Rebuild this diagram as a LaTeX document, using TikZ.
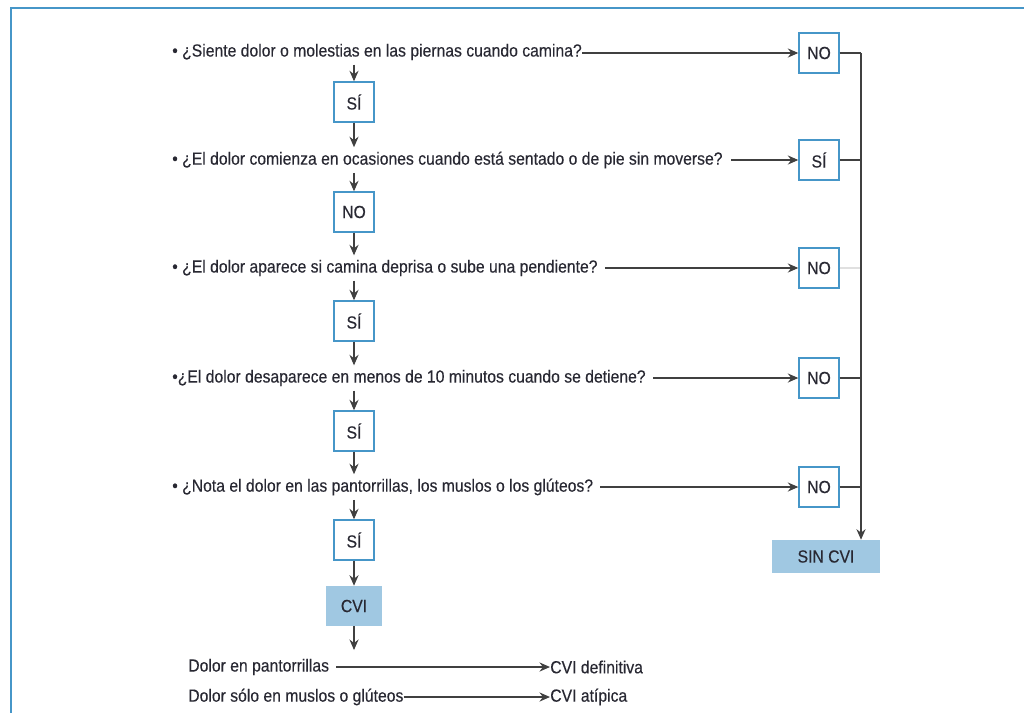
\documentclass[tikz,border=0pt]{standalone}
\usepackage{fontspec}
\setmainfont{Liberation Sans}[FakeStretch=0.895, FakeBold=0.35]
\usetikzlibrary{arrows.meta}
\definecolor{cvblue}{RGB}{70,150,200}
\definecolor{cvfill}{RGB}{160,200,226}
\definecolor{txtgray}{RGB}{40,40,50}

\begin{document}
\begin{tikzpicture}[x=0.025cm, y=-0.025cm,
    font=\fontsize{12.5}{14}\selectfont, text=txtgray,
    box/.style={shape=rectangle, draw=cvblue, line width=1pt, minimum width=1cm, minimum height=1cm, inner sep=0pt},
    res/.style={shape=rectangle, fill=cvfill, minimum height=1cm, inner sep=0pt},
    quest/.style={anchor=west, inner xsep=0pt, inner ysep=3pt},
    link/.style={line width=0.8pt, draw=black!75},
    arr/.style={link, -{Stealth[length=7.5pt, width=6.5pt, inset=2.5pt]}}]
    \useasboundingbox (0,0) rectangle (1024,713);
    \draw[cvblue, line width=1.2pt] (1024,8) -- (11,8) -- (11,713);

    \node[quest] (q1) at (172,52) {• ¿Siente dolor o molestias en las piernas cuando camina?};
    \node[box] (n1) at (819,53) {NO};
    \node[box] (s1) at (354,102) {SÍ};
    \node[quest] (q2) at (172,160) {• ¿El dolor comienza en ocasiones cuando está sentado o de pie sin moverse?};
    \node[box] (n2) at (819,160) {SÍ};
    \node[box] (s2) at (354,212) {NO};
    \node[quest] (q3) at (172,268) {• ¿El dolor aparece si camina deprisa o sube una pendiente?};
    \node[box] (n3) at (819,268) {NO};
    \node[box] (s3) at (354,321) {SÍ};
    \node[quest] (q4) at (172,378) {•¿El dolor desaparece en menos de 10 minutos cuando se detiene?};
    \node[box] (n4) at (819,378) {NO};
    \node[box] (s4) at (354,431) {SÍ};
    \node[quest] (q5) at (172,487) {• ¿Nota el dolor en las pantorrillas, los muslos o los glúteos?};
    \node[box] (n5) at (819,487) {NO};
    \node[box] (s5) at (354,540) {SÍ};
    \node[res, minimum width=1.4cm] (cvi) at (354,606) {CVI};
    \node[res, minimum width=2.7cm, minimum height=0.825cm] (sin) at (826,556.5) {SIN CVI};
    \coordinate (top) at (861,53);
    \coordinate (cviend) at (354,650);

    \node[quest] (d1) at (188,667) {Dolor en pantorrillas};
    \node[quest] (d2) at (188,697) {Dolor sólo en muslos o glúteos};
    \node[quest] (r1) at (550,667) {CVI definitiva};
    \node[quest] (r2) at (550,697) {CVI atípica};

    % questions to the right-hand boxes
    \draw[arr] (q1.east |- n1) -- (n1.west);
    \draw[arr, shorten <=6pt] (q2.east |- n2) -- (n2.west);
    \draw[arr, shorten <=5pt] (q3.east |- n3) -- (n3.west);
    \draw[arr, shorten <=5pt] (q4.east |- n4) -- (n4.west);
    \draw[arr, shorten <=5pt] (q5.east |- n5) -- (n5.west);

    % main column
    \draw[arr] (s1 |- q1.south) -- (s1.north);
    \draw[arr] (s1.south) -- (s1 |- q2.north);
    \draw[arr] (s2 |- q2.south) -- (s2.north);
    \draw[arr] (s2.south) -- (s2 |- q3.north);
    \draw[arr] (s3 |- q3.south) -- (s3.north);
    \draw[arr] (s3.south) -- (s3 |- q4.north);
    \draw[arr] (s4 |- q4.south) -- (s4.north);
    \draw[arr] (s4.south) -- (s4 |- q5.north);
    \draw[arr] (s5 |- q5.south) -- (s5.north);
    \draw[arr] (s5.south) -- (cvi.north);
    \draw[arr] (cvi.south) -- (cviend);

    % collector on the right
    \draw[link] (n1.east) -- (top);
    \draw[link] (n2.east) -- (n2.east -| top);
    \draw[link, draw=black!12] (n3.east) -- (n3.east -| top);
    \draw[link] (n4.east) -- (n4.east -| top);
    \draw[link] (n5.east) -- (n5.east -| top);
    \draw[arr] (top) -- (top |- sin.north);

    % result lines
    \draw[arr, shorten <=5pt] (d1.east |- r1) -- (r1.west);
    \draw[arr] (d2.east |- r2) -- (r2.west);

\end{tikzpicture}
\end{document}
